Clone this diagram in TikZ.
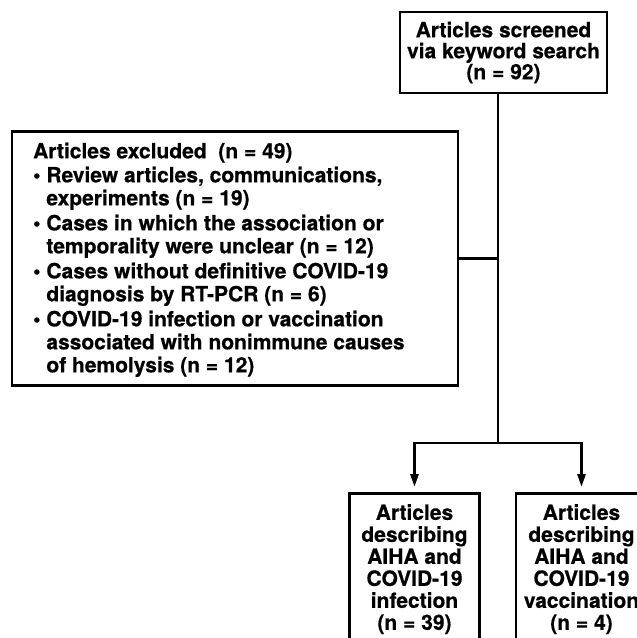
\documentclass[tikz,border=0pt]{standalone}
\usepackage{fontspec}
\setmainfont{TeX Gyre Heros}[BoldFeatures={FakeBold=0.6}]
\usetikzlibrary{arrows.meta}
\begin{document}
\begin{tikzpicture}[x=1pt,y=-1pt,
  box/.style={draw, line width=2.7pt, inner sep=0pt},
  txt/.style={font=\fontsize{21}{22}\selectfont\bfseries, align=center, inner sep=0pt},
  conn/.style={line width=2.7pt},
  arr/.style={conn, -{Triangle[width=8pt,length=13pt]}, shorten >=5pt}]
\useasboundingbox (0,0) rectangle (637,638);
\clip (0,0) rectangle (637,638);
\node[box, txt, font=\fontsize{21}{21}\selectfont\bfseries, minimum width=207pt, minimum height=81pt] (top) at (503.5,52.5)
  {Articles screened\\via keyword search\\(n = 92)};
\node[box, minimum width=446pt, minimum height=254pt] (excl) at (235,258.5) {};
\node[txt, font=\fontsize{21}{23}\selectfont\bfseries, align=left, anchor=north west] (excltext) at (33,142.5)
  {Articles excluded\ \ (n = 49)\\[1pt]
   \textbullet\ Review articles, communications,\\
   \phantom{\textbullet\ }experiments (n = 19)\\[2pt]
   \textbullet\ Cases in which the association or\\
   \phantom{\textbullet\ }temporality were unclear (n = 12)\\[2pt]
   \textbullet\ Cases without definitive COVID-19\\
   \phantom{\textbullet\ }diagnosis by RT-PCR (n = 6)\\[2pt]
   \textbullet\ COVID-19 infection or vaccination\\
   \phantom{\textbullet\ }associated with nonimmune causes\\
   \phantom{\textbullet\ }of hemolysis (n = 12)};
\node[box, minimum width=130pt, minimum height=200pt, anchor=north] (inf) at (414.5,492) {};
\node[txt, anchor=north] (inftext) at (414.5,504)
  {Articles\\describing\\AIHA and\\COVID-19\\infection\\(n = 39)};
\node[box, minimum width=131pt, minimum height=200pt, anchor=north] (vac) at (581.5,492) {};
\node[txt, anchor=north] (vactext) at (581.5,504)
  {Articles\\describing\\AIHA and\\COVID-19\\vaccination\\(n = 4)};
\coordinate (j) at (498,443);
\draw[conn] (top.south -| j) -- (j);
\draw[conn] (excl.east) -- (excl.east -| j);
\draw[arr] (j) -| (inf.north);
\draw[arr] (j) -| (vac.north);
\end{tikzpicture}
\end{document}
